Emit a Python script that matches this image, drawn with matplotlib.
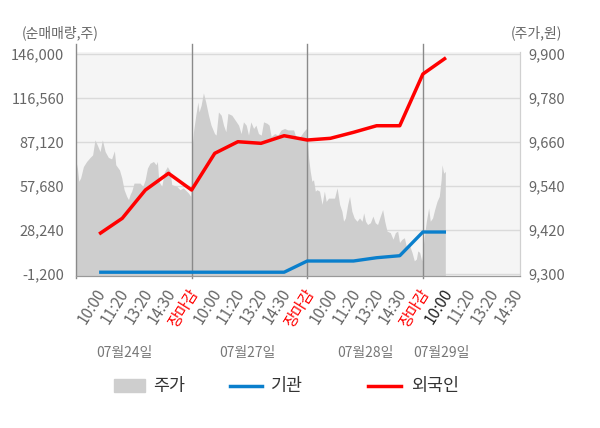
import matplotlib
matplotlib.use('Agg')
import matplotlib.pyplot as plt
import matplotlib.transforms as mtransforms
from matplotlib.patches import Rectangle
from matplotlib.lines import Line2D

plt.rcParams['font.family'] = ['Noto Sans CJK KR', 'DejaVu Sans']

# x axis: one slot per label, 5 slots per trading day
tick_labels = ['10:00', '11:20', '13:20', '14:30', '장마감',
               '10:00', '11:20', '13:20', '14:30', '장마감',
               '10:00', '11:20', '13:20', '14:30', '장마감',
               '10:00', '11:20', '13:20', '14:30']
day_labels = ['07월24일', '07월27일', '07월28일', '07월29일']
day_label_pos = [2.1, 7.4, 12.5, 15.8]
day_breaks = [5, 10, 15]

# net buying (shares) at each slot
flow_slots = list(range(1, 17))
foreign = [25560, 36060, 55000, 66170, 55000,
           79550, 87310, 86240, 91320, 88450,
           89580, 93600, 98010, 98010, 132600,
           143500]
institution = [0, 0, 0, 0, 0,
               0, 0, 0, 0, 7500,
               7500, 7500, 9700, 11040, 26900,
               26900]

# intraday share price (won)
price_x = [0.00, 0.06, 0.12, 0.20, 0.32, 0.46, 0.61, 0.72, 0.82, 0.92,
           1.04, 1.14, 1.26, 1.40, 1.54, 1.66, 1.72, 1.88, 1.98, 2.08,
           2.19, 2.27, 2.34, 2.41, 2.51, 2.77, 2.89, 2.99, 3.09, 3.20,
           3.35, 3.46, 3.52, 3.58, 3.71, 3.82, 3.95, 4.07, 4.14, 4.36,
           4.50, 4.64, 4.86, 4.96,
           5.02, 5.08, 5.18, 5.27, 5.32, 5.41, 5.51, 5.61, 5.73, 5.84,
           5.99, 6.06, 6.16, 6.28, 6.38, 6.48, 6.57, 6.74, 6.88, 7.03,
           7.14, 7.24, 7.36, 7.46, 7.56, 7.68, 7.78, 7.89, 8.01, 8.11,
           8.26, 8.35, 8.44, 8.59, 8.73, 8.87, 9.02, 9.16, 9.31, 9.41,
           9.48, 9.62, 9.74, 9.84, 9.96,
           10.01, 10.06, 10.13, 10.20, 10.27, 10.35, 10.42, 10.53, 10.64, 10.74,
           10.82, 10.92, 11.07, 11.18, 11.29, 11.40, 11.50, 11.57, 11.65, 11.75,
           11.83, 11.93, 12.03, 12.15, 12.26, 12.37, 12.44, 12.52, 12.61, 12.73,
           12.84, 12.94, 13.04, 13.16, 13.26, 13.35, 13.45, 13.59, 13.71, 13.81,
           13.91, 13.99, 14.10, 14.20, 14.31, 14.43, 14.53, 14.63, 14.72, 14.78,
           14.86, 14.95,
           15.04, 15.15, 15.25, 15.32, 15.42, 15.51, 15.61, 15.71, 15.79, 15.83,
           15.90, 15.97]
price = [9607, 9589, 9553, 9562, 9593, 9607, 9618, 9625, 9666, 9652,
         9634, 9666, 9634, 9618, 9614, 9636, 9598, 9584, 9562, 9530,
         9512, 9503, 9517, 9526, 9548, 9548, 9539, 9557, 9589, 9602,
         9607, 9598, 9607, 9553, 9539, 9578, 9593, 9580, 9544, 9539,
         9530, 9535, 9521, 9512,
         9643, 9688, 9733, 9769, 9742, 9760, 9794, 9769, 9733, 9706,
         9683, 9679, 9742, 9733, 9706, 9688, 9738, 9733, 9720, 9706,
         9683, 9715, 9706, 9679, 9715, 9697, 9706, 9683, 9679, 9715,
         9711, 9706, 9675, 9683, 9679, 9693, 9697, 9693, 9693, 9693,
         9679, 9670, 9679, 9688, 9697,
         9661, 9616, 9580, 9553, 9557, 9526, 9530, 9526, 9490, 9526,
         9498, 9507, 9507, 9507, 9535, 9490, 9471, 9444, 9453, 9490,
         9512, 9471, 9453, 9444, 9453, 9444, 9467, 9444, 9435, 9440,
         9458, 9440, 9435, 9458, 9476, 9444, 9417, 9413, 9395, 9413,
         9417, 9386, 9395, 9399, 9368, 9377, 9359, 9336, 9341, 9363,
         9359, 9336,
         9390, 9444, 9480, 9444, 9453, 9476, 9498, 9512, 9557, 9598,
         9575, 9580]

flow_ticks = [-1200, 28240, 57680, 87120, 116560, 146000]
price_ticks = [9300, 9420, 9540, 9660, 9780, 9900]

fig = plt.figure(figsize=(6, 4.28), dpi=100)
ax = fig.add_axes([76 / 600, 1 - 275.5 / 428, 444 / 600, 223.5 / 428])
ax2 = ax.twinx()

# price area sits on the bottom axes, ticks shown on the right
ax.set_facecolor('#f5f5f5')
ax.fill_between(price_x, 9200, price, color='#cecece', lw=0)
ax.set_ylim(9296, 9905.5)
ax.set_yticks(price_ticks)
ax.set_yticklabels(['{:,}'.format(v) for v in price_ticks])
ax.yaxis.tick_right()
ax.grid(axis='y', color='#dadada', lw=1)
ax.set_axisbelow(True)
ax.set_xlim(0, 19.2)

for b in day_breaks:
    ax.axvline(b, ymin=-0.012, ymax=1.035, color='#8a8a8a', lw=1, clip_on=False, zorder=3)
ax.axvline(0, ymin=-0.012, ymax=1.035, color='#8a8a8a', lw=1, clip_on=False, zorder=3)

ax2.plot(flow_slots, institution, color='#0a7fcc', lw=2.4, solid_capstyle='butt', zorder=4)
ax2.plot(flow_slots, foreign, color='#ff0000', lw=2.5, solid_capstyle='butt', zorder=5)
ax2.set_ylim(-2200, 147340)
ax2.set_yticks(flow_ticks)
ax2.set_yticklabels(['{:,}'.format(v) for v in flow_ticks])
ax2.yaxis.tick_left()

for a in (ax, ax2):
    a.spines['top'].set_visible(False)
    a.spines['left'].set_visible(False)
    a.spines['right'].set_color('#d0d0d0')
    a.spines['bottom'].set_color('#999999')
    a.tick_params(axis='y', length=0, labelsize=10.5, labelcolor='#666666')
ax.tick_params(axis='y', pad=6)
ax2.tick_params(axis='y', pad=8.5)

ax.set_xticks(range(1, len(tick_labels) + 1))
ax.set_xticklabels(tick_labels, rotation=58, ha='right', va='top', rotation_mode='anchor')
ax.tick_params(axis='x', length=0, pad=7.5, labelsize=11)
shift = mtransforms.ScaledTranslation(-4 / 100, 0, fig.dpi_scale_trans)
for i, lbl in enumerate(ax.get_xticklabels()):
    lbl.set_transform(lbl.get_transform() + shift)
    if tick_labels[i] == '장마감':
        lbl.set_color('#ff0000')
    elif i == 15:
        lbl.set_color('#222222')
    else:
        lbl.set_color('#666666')

trans = mtransforms.blended_transform_factory(ax.transData, fig.transFigure)
for pos, txt in zip(day_label_pos, day_labels):
    ax.text(pos, 1 - 353 / 428, txt, transform=trans, ha='center', va='center',
            fontsize=10, color='#777777')

fig.text(22 / 600, 1 - 33 / 428, '(순매매량,주)', ha='left', va='center', fontsize=10, color='#666666')
fig.text(562 / 600, 1 - 33 / 428, '(주가,원)', ha='right', va='center', fontsize=10, color='#666666')

# legend
ly = 1 - 385.5 / 428
fig.patches.append(Rectangle((114 / 600, 1 - 392 / 428), 31 / 600, 13 / 428,
                             transform=fig.transFigure, color='#cecece'))
fig.text(153 / 600, ly, '주가', ha='left', va='center', fontsize=12.5, color='#333333')
fig.lines.append(Line2D([230 / 600, 262 / 600], [ly, ly], transform=fig.transFigure,
                        color='#0a7fcc', lw=2.5))
fig.text(271 / 600, ly, '기관', ha='left', va='center', fontsize=12.5, color='#333333')
fig.lines.append(Line2D([368 / 600, 401 / 600], [ly, ly], transform=fig.transFigure,
                        color='#ff0000', lw=2.5))
fig.text(411 / 600, ly, '외국인', ha='left', va='center', fontsize=12.5, color='#333333')

fig.savefig('out.png', dpi=100)
